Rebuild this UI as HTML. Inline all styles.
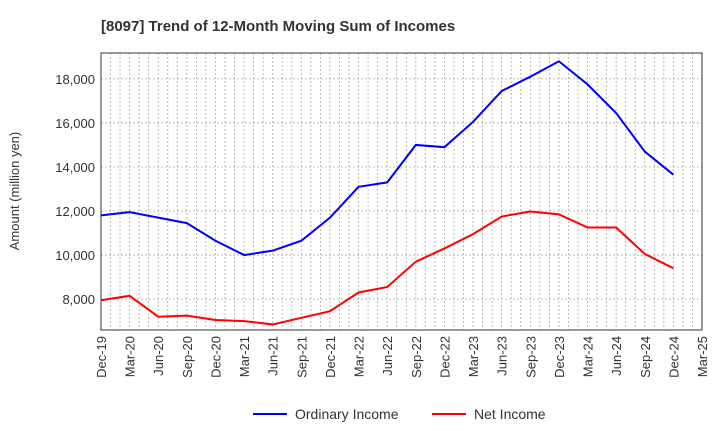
<!DOCTYPE html>
<html><head><meta charset="utf-8"><style>
body{margin:0;background:#fff;font-family:"Liberation Sans",sans-serif;}
</style></head><body>
<svg id="chart" width="720" height="440" xmlns="http://www.w3.org/2000/svg">
<text x="101" y="31" font-size="15" font-weight="bold" fill="#333">[8097]  Trend of 12-Month Moving Sum of Incomes</text>
<g id="grid"></g>
<rect x="101" y="53" width="601" height="277" fill="none" stroke="#333" stroke-width="1"/>
<g id="axes"></g>
<g id="series"></g>
<text transform="translate(19,191) rotate(-90)" text-anchor="middle" font-size="13" fill="#333">Amount (million yen)</text>
<g><line x1="253" y1="414" x2="287" y2="414" stroke="#0000ff" stroke-width="2"/><text x="295" y="419" font-size="14" fill="#333">Ordinary Income</text></g>
<g><line x1="432" y1="414" x2="466" y2="414" stroke="#ff0000" stroke-width="2"/><text x="474" y="419" font-size="14" fill="#333">Net Income</text></g>
</svg>
<script>
const categories=["Dec-19","Mar-20","Jun-20","Sep-20","Dec-20","Mar-21","Jun-21","Sep-21","Dec-21","Mar-22","Jun-22","Sep-22","Dec-22","Mar-23","Jun-23","Sep-23","Dec-23","Mar-24","Jun-24","Sep-24","Dec-24","Mar-25"];
const ordinaryIncome=[11800,11950,11700,11450,10650,10000,10200,10650,11700,13100,13300,15000,14900,16050,17450,18100,18800,17750,16450,14700,13650];
const netIncome=[7950,8150,7200,7250,7050,7000,6850,7150,7450,8300,8550,9700,10300,10950,11750,11980,11850,11250,11250,10050,9400];
const yTicks=[8000,10000,12000,14000,16000,18000];
const NS="http://www.w3.org/2000/svg";
const x0=101,x1=702,yTop=53,yBot=330,vMin=6597,vMax=19176;
const step=(x1-x0)/(categories.length-1);
function xs(i){return x0+i*step;}
function ys(v){return yBot-(v-vMin)/(vMax-vMin)*(yBot-yTop);}
function mk(tag,attrs,parent){const e=document.createElementNS(NS,tag);for(const k in attrs)e.setAttribute(k,attrs[k]);parent.appendChild(e);return e;}
const grid=document.getElementById('grid'),axes=document.getElementById('axes'),series=document.getElementById('series');
for(let m=1;m<(categories.length-1)*3;m++){
  const x=x0+m*step/3;
  const l=mk('line',{x1:x,x2:x,y1:yTop,y2:yBot,stroke:'#aaa','stroke-width':0.8,'stroke-dasharray':'2,2'},grid);
  
  
}
yTicks.forEach(v=>{
  const y=ys(v);
  const l=mk('line',{x1:x0,x2:x1,y1:y,y2:y,stroke:'#aaa','stroke-width':0.8,'stroke-dasharray':'2,2'},grid);
  
  
  const t=mk('text',{x:x0-6,y:y+5,'text-anchor':'end','font-size':13,fill:'#333'},axes);
  t.textContent=v.toLocaleString('en-US');
  
  
});
categories.forEach((c,i)=>{
  const x=xs(i);
  const t=mk('text',{transform:`translate(${x+5},336) rotate(-90)`,'text-anchor':'end','font-size':13,fill:'#333'},axes);
  t.textContent=c;
  
  
});
function line(data,color,name){
  const p=mk('polyline',{points:data.map((v,i)=>xs(i)+','+ys(v)).join(' '),fill:'none',stroke:color,'stroke-width':2},series);
  
  
}
line(ordinaryIncome,'#0000ff','ordinary-income-line');
line(netIncome,'#ff0000','net-income-line');
</script>
</body></html>
